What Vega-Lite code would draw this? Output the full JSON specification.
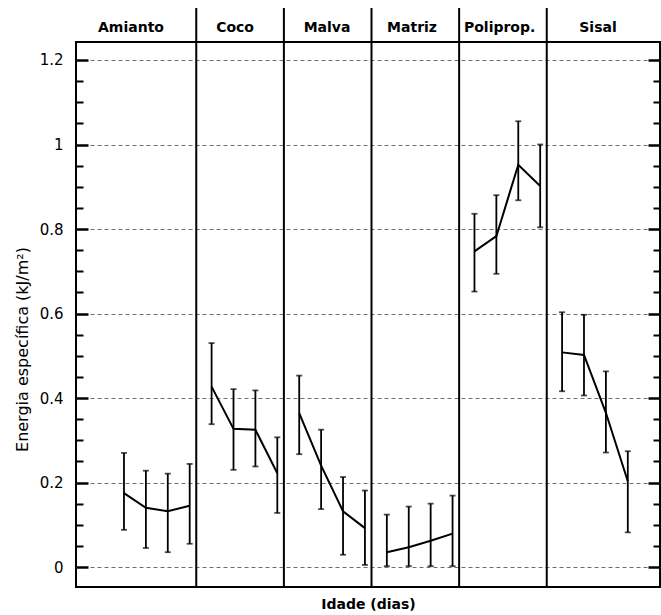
{
  "$schema": "https://vega.github.io/schema/vega-lite/v6.json",
  "width": 584,
  "height": 545,
  "autosize": "none",
  "padding": {"left": 76, "top": 42, "right": 1, "bottom": 28},
  "background": "white",
  "config": {
    "view": {"stroke": "black", "strokeWidth": 2},
    "font": "DejaVu Sans",
    "axisX": {"labels": false, "ticks": false, "domain": false, "grid": false, "titleFont": "DejaVu Sans", "titleFontWeight": "bold", "titleFontSize": 14, "titleColor": "black", "titlePadding": 10}
  },
  "datasets": {
    "medidas": [
      {"material": "Amianto", "idade": 1, "pos": 0, "media": 0.175, "inf": 0.088, "sup": 0.270},
      {"material": "Amianto", "idade": 2, "pos": 1, "media": 0.140, "inf": 0.045, "sup": 0.228},
      {"material": "Amianto", "idade": 3, "pos": 2, "media": 0.132, "inf": 0.035, "sup": 0.221},
      {"material": "Amianto", "idade": 4, "pos": 3, "media": 0.145, "inf": 0.055, "sup": 0.244},
      {"material": "Coco", "idade": 1, "pos": 4, "media": 0.427, "inf": 0.338, "sup": 0.530},
      {"material": "Coco", "idade": 2, "pos": 5, "media": 0.327, "inf": 0.230, "sup": 0.421},
      {"material": "Coco", "idade": 3, "pos": 6, "media": 0.325, "inf": 0.238, "sup": 0.418},
      {"material": "Coco", "idade": 4, "pos": 7, "media": 0.222, "inf": 0.128, "sup": 0.307},
      {"material": "Malva", "idade": 1, "pos": 8, "media": 0.364, "inf": 0.267, "sup": 0.453},
      {"material": "Malva", "idade": 2, "pos": 9, "media": 0.240, "inf": 0.137, "sup": 0.325},
      {"material": "Malva", "idade": 3, "pos": 10, "media": 0.132, "inf": 0.029, "sup": 0.213},
      {"material": "Malva", "idade": 4, "pos": 11, "media": 0.092, "inf": 0.005, "sup": 0.181},
      {"material": "Matriz", "idade": 1, "pos": 12, "media": 0.035, "inf": 0.002, "sup": 0.124},
      {"material": "Matriz", "idade": 2, "pos": 13, "media": 0.047, "inf": 0.002, "sup": 0.143},
      {"material": "Matriz", "idade": 3, "pos": 14, "media": 0.062, "inf": 0.002, "sup": 0.150},
      {"material": "Matriz", "idade": 4, "pos": 15, "media": 0.079, "inf": 0.002, "sup": 0.169},
      {"material": "Poliprop.", "idade": 1, "pos": 16, "media": 0.747, "inf": 0.652, "sup": 0.836},
      {"material": "Poliprop.", "idade": 2, "pos": 17, "media": 0.783, "inf": 0.694, "sup": 0.880},
      {"material": "Poliprop.", "idade": 3, "pos": 18, "media": 0.952, "inf": 0.868, "sup": 1.055},
      {"material": "Poliprop.", "idade": 4, "pos": 19, "media": 0.902, "inf": 0.804, "sup": 1.000},
      {"material": "Sisal", "idade": 1, "pos": 20, "media": 0.508, "inf": 0.416, "sup": 0.603},
      {"material": "Sisal", "idade": 2, "pos": 21, "media": 0.502, "inf": 0.406, "sup": 0.597},
      {"material": "Sisal", "idade": 3, "pos": 22, "media": 0.365, "inf": 0.271, "sup": 0.463},
      {"material": "Sisal", "idade": 4, "pos": 23, "media": 0.203, "inf": 0.082, "sup": 0.274}
    ],
    "divisorias": [
      {"pos": 3.3}, {"pos": 7.3}, {"pos": 11.3}, {"pos": 15.3}, {"pos": 19.3}
    ],
    "paineis": [
      {"material": "Amianto", "pos": 0.32},
      {"material": "Coco", "pos": 5.07},
      {"material": "Malva", "pos": 9.27},
      {"material": "Matriz", "pos": 13.15},
      {"material": "Poliprop.", "pos": 17.15},
      {"material": "Sisal", "pos": 21.64}
    ]
  },
  "layer": [
    {
      "data": {"name": "divisorias"},
      "mark": {"type": "rule", "color": "black", "strokeWidth": 2, "clip": false},
      "encoding": {
        "x": {"field": "pos", "type": "quantitative", "title": "Idade (dias)", "scale": {"domain": [-2.19, 24.47], "nice": false, "zero": false}},
        "y": {"datum": 1.323, "type": "quantitative", "scale": {"domain": [-0.0473, 1.2426], "nice": false, "zero": false}, "axis": {
          "orient": "left", "title": "Energia específica (kJ/m²)", "values": [0, 0.2, 0.4, 0.6, 0.8, 1, 1.2], "format": "~f",
          "grid": false,
          "domain": false, "ticks": true, "offset": -12, "tickSize": 12, "tickWidth": 2.5, "tickColor": "black", "tickOpacity": 1,
          "labelFont": "DejaVu Sans", "labelFontSize": 15, "labelColor": "black", "labelPadding": 13,
          "titleFont": "DejaVu Sans", "titleFontSize": 16, "titleFontWeight": "normal", "titleColor": "black",
          "titleX": -66, "titleY": 307, "titleBaseline": "middle", "titleAlign": "center", "titleAngle": -90
        }},
        "y2": {"datum": -0.0473}
      }
    },
    {
      "data": {"name": "medidas"},
      "mark": {"type": "rule", "color": "black", "strokeWidth": 1.8},
      "encoding": {
        "x": {"field": "pos", "type": "quantitative", "title": "Idade (dias)"},
        "y": {"field": "inf", "type": "quantitative", "axis": {
          "orient": "left", "title": null, "labels": false, "grid": true, "gridDash": [4, 3], "gridColor": "#6e6e6e", "gridWidth": 1, "domain": false,
          "values": [0, 0.2, 0.4, 0.6, 0.8, 1, 1.2],
          "ticks": false
        }},
        "y2": {"field": "sup"}
      }
    },
    {
      "data": {"name": "medidas"},
      "mark": {"type": "tick", "orient": "horizontal", "color": "black", "size": 6, "thickness": 1.8},
      "encoding": {
        "x": {"field": "pos", "type": "quantitative", "title": "Idade (dias)"},
        "y": {"field": "sup", "type": "quantitative", "axis": {
          "orient": "left", "title": null, "labels": false, "grid": false, "domain": false,
          "values": [0.05, 0.1, 0.15, 0.25, 0.3, 0.35, 0.45, 0.5, 0.55, 0.65, 0.7, 0.75, 0.85, 0.9, 0.95, 1.05, 1.1, 1.15],
          "offset": -7, "tickSize": 7, "tickWidth": 2, "tickColor": "black", "tickOpacity": 1
        }}
      }
    },
    {
      "data": {"name": "medidas"},
      "mark": {"type": "tick", "orient": "horizontal", "color": "black", "size": 6, "thickness": 1.8},
      "encoding": {
        "x": {"field": "pos", "type": "quantitative", "title": "Idade (dias)"},
        "y": {"field": "inf", "type": "quantitative", "axis": {
          "orient": "right", "title": null, "labels": false, "grid": false, "domain": false,
          "values": [0, 0.2, 0.4, 0.6, 0.8, 1, 1.2],
          "offset": -12, "tickSize": 12, "tickWidth": 2.5, "tickColor": "black", "tickOpacity": 1
        }}
      }
    },
    {
      "data": {"name": "medidas"},
      "mark": {"type": "line", "color": "black", "strokeWidth": 2},
      "encoding": {
        "x": {"field": "pos", "type": "quantitative", "title": "Idade (dias)"},
        "y": {"field": "media", "type": "quantitative", "axis": {
          "orient": "right", "title": null, "labels": false, "grid": false, "domain": false,
          "values": [0.05, 0.1, 0.15, 0.25, 0.3, 0.35, 0.45, 0.5, 0.55, 0.65, 0.7, 0.75, 0.85, 0.9, 0.95, 1.05, 1.1, 1.15],
          "offset": -7, "tickSize": 7, "tickWidth": 2, "tickColor": "black", "tickOpacity": 1
        }},
        "detail": {"field": "material"}
      }
    },
    {
      "data": {"name": "paineis"},
      "mark": {"type": "text", "font": "DejaVu Sans", "fontWeight": "bold", "fontSize": 14, "color": "black", "baseline": "middle", "align": "center", "clip": false},
      "encoding": {
        "x": {"field": "pos", "type": "quantitative", "title": "Idade (dias)"},
        "y": {"datum": 1.275, "type": "quantitative", "axis": null},
        "text": {"field": "material"}
      }
    }
  ],
  "resolve": {"axis": {"y": "independent"}}
}
